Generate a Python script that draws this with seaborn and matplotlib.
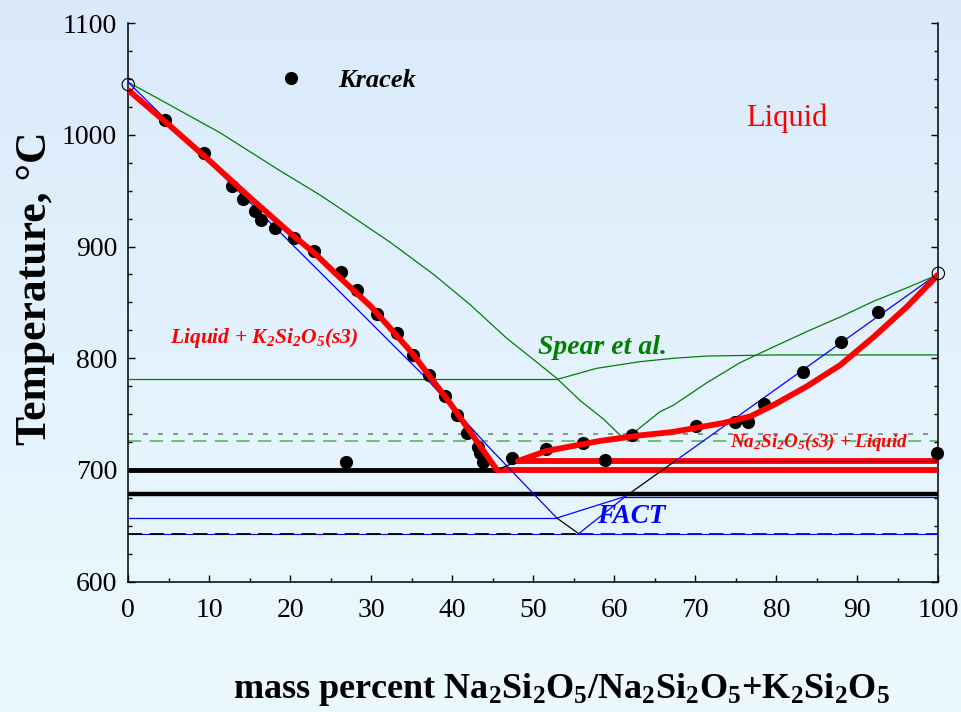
import numpy as np
import matplotlib
matplotlib.use("Agg")
import matplotlib.pyplot as plt
import seaborn as sns
from matplotlib.ticker import MultipleLocator

sns.set_style("ticks")
plt.rcParams['font.family'] = ['Liberation Serif', 'DejaVu Serif']
plt.rcParams['mathtext.fontset'] = 'custom'
plt.rcParams['mathtext.default'] = 'regular'
for k in ['text.color', 'axes.labelcolor', 'xtick.color', 'ytick.color', 'axes.edgecolor']:
    plt.rcParams[k] = 'black'

# Kracek experimental points (mass % Na2Si2O5, T in C)
kracek_x = [4.5, 9.3, 12.8, 14.2, 15.6, 16.4, 18.1, 20.5, 22.9, 26.3, 28.2, 30.7,
            33.2, 35.2, 37.1, 39.1, 40.6, 41.8, 43.2, 43.4, 43.8, 47.4, 51.6, 56.1,
            58.8, 62.2, 70.1, 74.9, 76.5, 78.5, 83.3, 88.0, 92.6, 99.8, 26.9]
kracek_y = [1013, 984, 954, 943, 932, 924, 917, 908, 896, 877, 861, 840,
            823, 803, 785, 766, 749, 733, 721, 715, 707, 711, 719, 724,
            709, 731, 739, 743, 743, 759, 788, 815, 841, 715, 707]

# pure component melting points (open circles)
pure_x = [0, 100]
pure_y = [1045, 876]

# this work (red): liquidus branches
red_left_x = [0, 5, 10, 15, 20, 23, 26, 30, 35, 40, 45.5]
red_left_y = [1040, 1009, 977, 944, 912, 894, 873, 846, 805, 757, 700]
red_right_x = [48.1, 51.6, 58.2, 63.2, 67.2, 73.4, 76.8, 79.6, 83.8, 87.9, 92.0, 96.1, 100]
red_right_y = [708, 717, 726, 731, 734, 742, 748, 758, 775, 794, 819, 846, 875]

# FACT (blue) liquidus
blue_left_x = [0, 18.7, 36.4, 41.8, 44.7, 52.9]
blue_left_y = [1047, 913, 785, 742, 719, 657]
blue_right_x = [67.7, 100]
blue_right_y = [709, 876]

# Spear et al. (green)
spear_left_x = [0, 4.3, 11.3, 18.7, 23.7, 27.4, 32.3, 37.7, 42.2, 46.7, 50.0, 52.9, 55.8, 58.6, 61.3]
spear_left_y = [1047, 1030, 1002, 968, 946, 928, 904, 875, 848, 818, 799, 782, 762, 746, 727]
spear_right_x = [61.3, 63.2, 65.6, 67.3, 71.4, 75.5, 79.6, 83.8, 87.9, 92.0, 96.1, 100]
spear_right_y = [727, 738, 752, 758, 778, 796, 810, 824, 837, 851, 863, 875]
spear_solvus_x = [0, 52.9, 57.8, 63.2, 67.3, 71.4, 80, 100]
spear_solvus_y = [781, 781, 791, 797, 800, 802, 803, 803]

# small connecting segments
black_seg1_x, black_seg1_y = [45.5, 48.1], [700, 708]
black_seg2_x, black_seg2_y = [52.9, 55.6], [657, 643]
black_seg3_x, black_seg3_y = [61.5, 67.7], [677, 709]
blue_seg1_x, blue_seg1_y = [52.9, 61.2], [657, 676]
blue_seg2_x, blue_seg2_y = [55.6, 61.5], [643, 677]

fig = plt.figure(figsize=(9.62, 7.12), dpi=100)

# soft blue gradient background
bgax = fig.add_axes([0, 0, 1, 1], zorder=-5)
top_c = np.array([218, 234, 251]) / 255
bot_c = np.array([236, 250, 254]) / 255
t = np.linspace(0, 1, 256)[:, None]
grad = (top_c[None, :] * (1 - t) + bot_c[None, :] * t)[:, None, :]
bgax.imshow(grad, aspect='auto', extent=[0, 1, 0, 1])
bgax.axis('off')

ax = fig.add_axes([0.1334, 0.183, 0.842, 0.7845])
ax.set_facecolor('none')

# horizontal invariant lines
ax.hlines(643, 0, 100, color='blue', lw=0.8, zorder=2)
ax.hlines(643, 0, 55.6, color='black', lw=1.3, linestyles=(0, (8, 4)), zorder=2.1)
ax.hlines(643, 55.6, 100, color='blue', lw=1.3, linestyles=(0, (8, 4)), zorder=2.1)
ax.hlines(657, 0, 52.9, color='blue', lw=0.9, zorder=2)
ax.hlines(676, 61.2, 100, color='blue', lw=0.9, zorder=2)
ax.hlines(679.5, 0, 100, color='#8b1a1a', lw=1.0, zorder=3)
ax.hlines(678.3, 0, 100, color='black', lw=3.2, zorder=3.1)
ax.hlines(700, 0, 45.5, color='black', lw=3.5, zorder=3)
ax.hlines(700, 45.5, 100, color='red', lw=4.2, zorder=3)
ax.hlines(708, 48.1, 100, color='red', lw=4.2, zorder=3)
ax.hlines(708, 67.7, 100, color='blue', lw=0.8, zorder=3.2)
ax.hlines(726, 0, 100, color='#5cb85c', lw=1.2, linestyles=(0, (8, 5)), zorder=2)
ax.hlines(732, 0, 100, color='gray', lw=1.2, linestyles=(0, (3, 6)), zorder=2)

# Spear et al.
for xs, ys in [(spear_left_x, spear_left_y), (spear_right_x, spear_right_y),
               (spear_solvus_x, spear_solvus_y)]:
    sns.lineplot(x=xs, y=ys, sort=False, estimator=None, color='green', lw=0.9, ax=ax, zorder=2)

# FACT
for xs, ys in [(blue_left_x, blue_left_y), (blue_right_x, blue_right_y),
               (blue_seg1_x, blue_seg1_y), (blue_seg2_x, blue_seg2_y)]:
    sns.lineplot(x=xs, y=ys, sort=False, estimator=None, color='blue', lw=0.9, ax=ax, zorder=4)
for xs, ys in [(black_seg1_x, black_seg1_y), (black_seg2_x, black_seg2_y),
               (black_seg3_x, black_seg3_y)]:
    sns.lineplot(x=xs, y=ys, sort=False, estimator=None, color='black', lw=0.9, ax=ax, zorder=4)

# Kracek points
sns.scatterplot(x=kracek_x, y=kracek_y, s=90, color='black', linewidth=0, ax=ax, zorder=5, clip_on=False)

# this work
for xs, ys in [(red_left_x, red_left_y), (red_right_x, red_right_y)]:
    sns.lineplot(x=xs, y=ys, sort=False, estimator=None, color='red', lw=4.2, ax=ax, zorder=6)

sns.scatterplot(x=pure_x, y=pure_y, s=80, facecolor='none', edgecolor='black', linewidth=0.8,
                ax=ax, zorder=7, clip_on=False)

# legend-like marker
sns.scatterplot(x=[20.1], y=[1051], s=90, color='black', linewidth=0, ax=ax, zorder=5)
ax.text(25.9, 1049, 'Kracek', fontsize=19, fontweight='bold', fontstyle='italic', va='center')

ax.text(81.3, 1015, 'Liquid', fontsize=22, color='red', ha='center', va='center')
ax.text(5.2, 818, r'Liquid + K$_2$Si$_2$O$_5$(s3)', fontsize=15.5, color='red',
        fontweight='bold', fontstyle='italic', va='center')
ax.text(50.6, 810, 'Spear et al.', fontsize=20, color='green', fontweight='bold',
        fontstyle='italic', va='center')
ax.text(74.3, 725, r'Na$_2$Si$_2$O$_5$(s3) + Liquid', fontsize=13.7, color='red',
        fontweight='bold', fontstyle='italic', va='center', zorder=8)
ax.text(57.9, 658, 'FACT', fontsize=19.5, color='blue', fontweight='bold',
        fontstyle='italic', va='center')

ax.set_xlim(0, 100)
ax.set_ylim(600, 1100)
ax.xaxis.set_major_locator(MultipleLocator(10))
ax.xaxis.set_minor_locator(MultipleLocator(5))
ax.yaxis.set_major_locator(MultipleLocator(100))
ax.yaxis.set_minor_locator(MultipleLocator(25))
ax.tick_params(which='both', direction='in', right=True, top=False, width=1.0, labelsize=20)
ax.tick_params(which='major', length=5)
ax.tick_params(which='minor', length=3)
ax.tick_params(axis='x', pad=12)
ax.tick_params(axis='y', pad=8)
ax.spines['top'].set_visible(False)
for s in ['left', 'right', 'bottom']:
    ax.spines[s].set_linewidth(1.1)
ax.set_xlabel('')
ax.set_ylabel('')

fig.text(561 / 962, 1 - 690 / 712, r'mass percent Na$_2$Si$_2$O$_5$/Na$_2$Si$_2$O$_5$+K$_2$Si$_2$O$_5$',
         fontsize=26, fontweight='bold', ha='center', va='center')
fig.text(35 / 962, 1 - 288 / 712, 'Temperature, °C', fontsize=31.5, fontweight='bold',
         rotation=90, ha='center', va='center')

fig.savefig('out.png', dpi=100)
